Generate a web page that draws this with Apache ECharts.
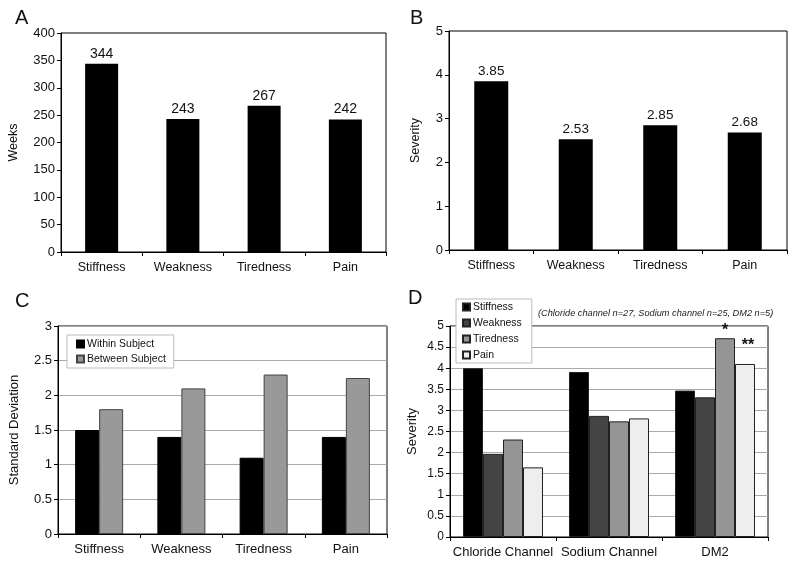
<!DOCTYPE html>
<html>
<head>
<meta charset="utf-8">
<script src="https://cdn.jsdelivr.net/npm/echarts@6/dist/echarts.min.js"></script>
<style>html,body{margin:0;padding:0;background:#fff}#c{width:800px;height:566px}</style>
</head>
<body>
<div id="c"></div>
<script>
const symptoms = ['Stiffness', 'Weakness', 'Tiredness', 'Pain'];
const weeks = [344, 243, 267, 242];
const severity = [3.85, 2.53, 2.85, 2.68];
const withinSubject = [1.5, 1.4, 1.1, 1.4];
const betweenSubject = [1.8, 2.1, 2.3, 2.25];
const groups = ['Chloride Channel', 'Sodium Channel', 'DM2'];
const dStiffness = [4.0, 3.91, 3.47];
const dWeakness = [1.97, 2.87, 3.31];
const dTiredness = [2.31, 2.74, 4.71];
const dPain = [1.65, 2.81, 4.1];
const stars = { Tiredness: [null, null, '*'], Pain: [null, null, '**'] };

const FONT = 'Liberation Sans, Arial, sans-serif';
const chart = echarts.init(document.getElementById('c'));

function xAxis(gi, data, fs, margin) {
  return {
    type: 'category', gridIndex: gi, data: data,
    axisLine: { lineStyle: { color: '#000', width: 1 } },
    axisTick: { show: true, alignWithLabel: false, length: 4, lineStyle: { color: '#000' } },
    axisLabel: { color: '#111', fontSize: fs, fontFamily: FONT, margin: margin, interval: 0 }
  };
}
function yAxis(gi, max, interval, name, gap, fs, nfs, grid) {
  return {
    type: 'value', gridIndex: gi, min: 0, max: max, interval: interval,
    name: name, nameLocation: 'middle', nameGap: gap,
    nameTextStyle: { color: '#111', fontSize: nfs, fontFamily: FONT },
    axisLine: { show: true, lineStyle: { color: '#000', width: 1 } },
    axisTick: { show: true, length: 4, lineStyle: { color: '#000' } },
    axisLabel: { color: '#111', fontSize: fs, fontFamily: FONT, margin: 6 },
    splitLine: { show: grid, lineStyle: { color: '#aaa', width: 1 } }
  };
}

const dSeries = [
  ['Stiffness', dStiffness, '#000000'],
  ['Weakness', dWeakness, '#444444'],
  ['Tiredness', dTiredness, '#959595'],
  ['Pain', dPain, '#eeeeee']
].map(([name, vals, color]) => ({
  name: name, type: 'bar', xAxisIndex: 3, yAxisIndex: 3,
  barWidth: 20, barGap: '0%',
  itemStyle: { color: color, borderColor: '#222', borderWidth: 1 },
  data: vals.map((v, i) => {
    const s = stars[name] && stars[name][i];
    if (!s) return v;
    return {
      value: v,
      label: {
        show: true, position: 'top', formatter: s,
        distance: name === 'Pain' ? 10 : 0, offset: name === 'Pain' ? [3, 0] : [0, 0],
        fontSize: 16, fontWeight: 'bold', color: '#111', fontFamily: FONT
      }
    };
  })
}));

const legendText = { fontSize: 10.5, color: '#111', fontFamily: FONT, lineHeight: 12, padding: [0, 0, 0, -2] };

const option = {
  animation: false,
  backgroundColor: '#fff',
  title: [
    { text: 'A', left: 10, top: 3, textStyle: { fontSize: 20, fontWeight: 'normal', color: '#111', fontFamily: FONT } },
    { text: 'B', left: 405, top: 3, textStyle: { fontSize: 20, fontWeight: 'normal', color: '#111', fontFamily: FONT } },
    { text: 'C', left: 10, top: 286, textStyle: { fontSize: 20, fontWeight: 'normal', color: '#111', fontFamily: FONT } },
    { text: 'D', left: 403, top: 283, textStyle: { fontSize: 20, fontWeight: 'normal', color: '#111', fontFamily: FONT } },
    { text: '(Chloride channel n=27, Sodium channel n=25, DM2 n=5)', left: 533, top: 304,
      textStyle: { fontSize: 9.2, fontStyle: 'italic', fontWeight: 'normal', color: '#222', fontFamily: FONT } }
  ],
  grid: [
    { left: 61, right: 414, top: 33, height: 219, show: true, borderColor: '#000', borderWidth: 1, backgroundColor: 'transparent' },
    { left: 449, right: 13, top: 31, height: 219, show: true, borderColor: '#000', borderWidth: 1, backgroundColor: 'transparent' },
    { left: 58, right: 413, top: 326, height: 208, show: true, borderColor: '#000', borderWidth: 1, backgroundColor: 'transparent' },
    { left: 450, right: 32, top: 326, height: 211, show: true, borderColor: '#000', borderWidth: 1, backgroundColor: 'transparent' }
  ],
  legend: [
    { data: ['Within Subject', 'Between Subject'], orient: 'vertical', left: 67, top: 335,
      itemWidth: 7, itemHeight: 7, itemGap: 3, padding: [3, 8, 3, 9],
      backgroundColor: '#fff', borderColor: '#bbb', borderWidth: 1, icon: 'rect',
      textStyle: legendText },
    { data: ['Stiffness', 'Weakness', 'Tiredness', 'Pain'], orient: 'vertical', left: 456, top: 299,
      itemWidth: 7, itemHeight: 7, itemGap: 4, padding: [2, 10, 2, 6],
      backgroundColor: '#fff', borderColor: '#bbb', borderWidth: 1, icon: 'rect',
      textStyle: legendText }
  ],
  xAxis: [
    xAxis(0, symptoms, 12.5, 9),
    xAxis(1, symptoms, 12.5, 9),
    xAxis(2, symptoms, 13, 9),
    xAxis(3, groups, 13, 9)
  ],
  yAxis: [
    yAxis(0, 400, 50, 'Weeks', 41, 13, 12.5, false),
    yAxis(1, 5, 1, 'Severity', 27, 13, 12.5, false),
    yAxis(2, 3, 0.5, 'Standard Deviation', 37, 13, 13, true),
    yAxis(3, 5, 0.5, 'Severity', 31, 12, 13, true)
  ],
  series: [
    { name: 'Weeks', type: 'bar', xAxisIndex: 0, yAxisIndex: 0, barWidth: 33,
      itemStyle: { color: '#000' }, data: weeks,
      label: { show: true, position: 'top', distance: 3, color: '#111', fontSize: 14, fontFamily: FONT } },
    { name: 'Severity', type: 'bar', xAxisIndex: 1, yAxisIndex: 1, barWidth: 34,
      itemStyle: { color: '#000' }, data: severity,
      label: { show: true, position: 'top', distance: 3, color: '#111', fontSize: 13.5, fontFamily: FONT,
        formatter: p => p.value.toFixed(2) } },
    { name: 'Within Subject', type: 'bar', xAxisIndex: 2, yAxisIndex: 2, barWidth: 24, barGap: '0%',
      itemStyle: { color: '#000', borderColor: '#000', borderWidth: 1 }, data: withinSubject },
    { name: 'Between Subject', type: 'bar', xAxisIndex: 2, yAxisIndex: 2, barWidth: 24, barGap: '0%',
      itemStyle: { color: '#999', borderColor: '#444', borderWidth: 1 }, data: betweenSubject },
    ...dSeries
  ]
};
chart.setOption(option);
</script>
</body>
</html>
